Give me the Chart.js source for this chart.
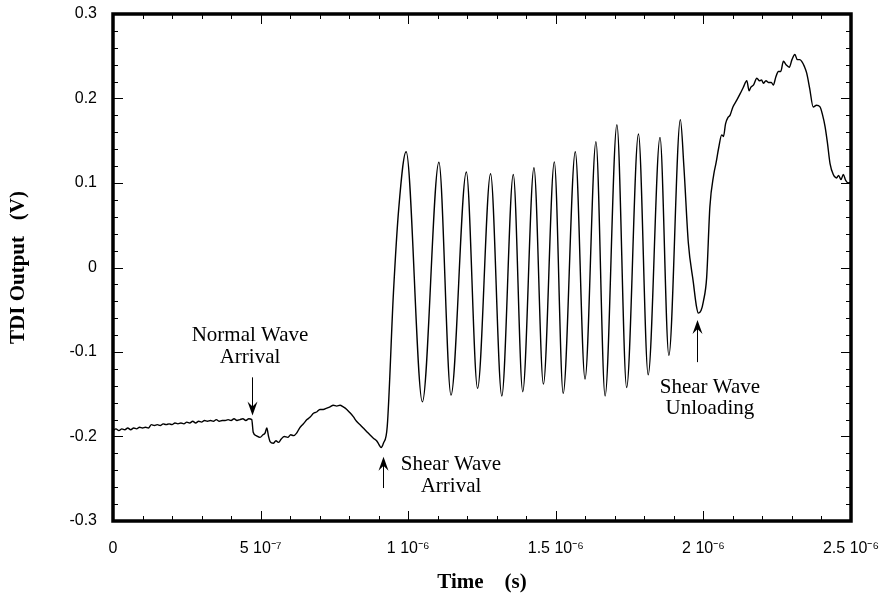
<!DOCTYPE html>
<html>
<head>
<meta charset="utf-8">
<script src="https://cdn.jsdelivr.net/npm/chart.js@4.4.1/dist/chart.umd.min.js"></script>
<style>
  html, body { margin: 0; padding: 0; background: #fff; }
  #wrap { width: 885px; height: 597px; }
</style>
</head>
<body>
<div id="wrap"><canvas id="tdiChart"></canvas></div>
<script>
// time in microseconds (axis is labelled in seconds), output in volts
const timeUs = [
  0.000, 0.010, 0.020, 0.030, 0.040, 0.050, 0.060, 0.070, 0.080, 0.090,
  0.100, 0.110, 0.120, 0.130, 0.140, 0.150, 0.160, 0.170, 0.180, 0.190,
  0.200, 0.210, 0.220, 0.230, 0.240, 0.250, 0.260, 0.270, 0.280, 0.290,
  0.300, 0.310, 0.320, 0.330, 0.340, 0.350, 0.360, 0.370, 0.380, 0.390,
  0.400, 0.410, 0.420, 0.430, 0.440, 0.450, 0.460, 0.470,
  0.475, 0.485, 0.498, 0.508, 0.515, 0.521, 0.527, 0.532, 0.543, 0.552,
  0.560, 0.570, 0.580, 0.592, 0.602, 0.612, 0.622, 0.632, 0.645, 0.657,
  0.668, 0.679, 0.690, 0.701, 0.712, 0.724, 0.735, 0.746, 0.758, 0.769,
  0.780, 0.792, 0.803, 0.814, 0.825, 0.837, 0.848, 0.859, 0.870, 0.882,
  0.893, 0.900, 0.908, 0.916, 0.929, 0.950, 0.968, 0.993,
  1.048, 1.104, 1.145, 1.197, 1.235, 1.279, 1.317, 1.356, 1.388, 1.426,
  1.458, 1.495, 1.525, 1.566, 1.599, 1.636, 1.667, 1.707, 1.740, 1.780,
  1.813, 1.853, 1.883, 1.922,
  1.934, 1.949, 1.966, 1.976, 1.983, 1.992, 2.000, 2.011, 2.022,
  2.035, 2.043, 2.052, 2.062, 2.068, 2.075, 2.084, 2.090, 2.100, 2.113,
  2.125, 2.135, 2.147, 2.155, 2.160, 2.170, 2.181, 2.190, 2.197, 2.203,
  2.212, 2.220, 2.230, 2.237, 2.245, 2.254, 2.262, 2.271, 2.280, 2.291,
  2.300, 2.310, 2.318, 2.326, 2.333, 2.342, 2.350, 2.360, 2.372, 2.383,
  2.395, 2.404, 2.412, 2.420, 2.429, 2.440, 2.451, 2.458, 2.466, 2.474,
  2.482, 2.491, 2.500
];
const tdiVolts = [
  -0.193, -0.191, -0.193, -0.191, -0.192, -0.190, -0.192, -0.190, -0.191, -0.189,
  -0.190, -0.189, -0.190, -0.186, -0.187, -0.186, -0.187, -0.185, -0.186, -0.185,
  -0.186, -0.184, -0.185, -0.184, -0.185, -0.183, -0.184, -0.182, -0.184, -0.182,
  -0.183, -0.181, -0.182, -0.181, -0.182, -0.180, -0.182, -0.181, -0.181, -0.180,
  -0.181, -0.179, -0.181, -0.180, -0.179, -0.181, -0.179, -0.180,
  -0.195, -0.199, -0.201, -0.198, -0.196, -0.190, -0.200, -0.206, -0.208, -0.205,
  -0.207, -0.203, -0.200, -0.201, -0.198, -0.199, -0.196, -0.190, -0.185, -0.180,
  -0.177, -0.1725, -0.171, -0.168, -0.168, -0.1665, -0.165, -0.163, -0.164, -0.163,
  -0.165, -0.168, -0.172, -0.1765, -0.182, -0.186, -0.190, -0.194, -0.198, -0.202,
  -0.205, -0.209, -0.213, -0.208, -0.188, -0.030, 0.070, 0.137,
  -0.159, 0.1245, -0.151, 0.113, -0.143, 0.111, -0.152, 0.110, -0.147, 0.118,
  -0.138, 0.125, -0.149, 0.137, -0.132, 0.149, -0.152, 0.169, -0.142, 0.158,
  -0.127, 0.154, -0.104, 0.175,
  0.119, 0.029, -0.018, -0.045, -0.054, -0.051, -0.040, -0.012, 0.072,
  0.110, 0.124, 0.142, 0.157, 0.155, 0.170, 0.178, 0.180, 0.190, 0.198,
  0.206, 0.213, 0.221, 0.209, 0.213, 0.216, 0.224, 0.221, 0.222, 0.218,
  0.221, 0.219, 0.219, 0.216, 0.225, 0.232, 0.232, 0.244, 0.240, 0.237,
  0.246, 0.252, 0.246, 0.246, 0.244, 0.238, 0.230, 0.212, 0.190, 0.192,
  0.190, 0.180, 0.167, 0.148, 0.123, 0.110, 0.106, 0.109, 0.104, 0.110,
  0.103, 0.100, 0.101
];
const xTickLabels = ['0', '5 10⁻⁷', '1 10⁻⁶', '1.5 10⁻⁶', '2 10⁻⁶', '2.5 10⁻⁶'];
const yTickLabels = ['-0.3', '-0.2', '-0.1', '0', '0.1', '0.2', '0.3'];

// callouts: arrow from tail to tip, text lines centred at (tx, ty...)
const notes = [
  { lines: ['Normal Wave', 'Arrival'], ax: 0.470, tail: -0.130, tip: -0.175, tx: 0.464, ty: [-0.087, -0.113] },
  { lines: ['Shear Wave', 'Arrival'], ax: 0.915, tail: -0.261, tip: -0.224, tx: 1.145, ty: [-0.240, -0.266] },
  { lines: ['Shear Wave', 'Unloading'], ax: 1.978, tail: -0.112, tip: -0.062, tx: 2.022, ty: [-0.1485, -0.1735] }
];

const frameTicks = {
  id: 'frameTicks',
  afterDatasetsDraw(chart) {
    const { ctx, chartArea: a, scales: { x, y } } = chart;
    ctx.save();
    ctx.strokeStyle = '#000';
    ctx.lineWidth = 1;
    ctx.beginPath();
    for (let i = 0; i <= 25; i++) {
      const px = Math.round(x.getPixelForValue(i * 0.1)) + 0.5;
      const len = i % 5 === 0 ? 10 : 5;
      ctx.moveTo(px, a.bottom); ctx.lineTo(px, a.bottom - len);
      ctx.moveTo(px, a.top); ctx.lineTo(px, a.top + len);
    }
    for (let i = 0; i <= 30; i++) {
      const py = Math.round(y.getPixelForValue(-0.3 + i * 0.02)) + 0.5;
      const len = i % 5 === 0 ? 10 : 5;
      ctx.moveTo(a.left, py); ctx.lineTo(a.left + len, py);
      ctx.moveTo(a.right, py); ctx.lineTo(a.right - len, py);
    }
    ctx.stroke();
    ctx.lineWidth = 3.5;
    ctx.strokeRect(a.left, a.top, a.right - a.left, a.bottom - a.top);
    ctx.restore();
  }
};

const callouts = {
  id: 'callouts',
  afterDraw(chart) {
    const { ctx, scales: { x, y } } = chart;
    ctx.save();
    ctx.fillStyle = '#000';
    ctx.strokeStyle = '#000';
    ctx.font = '21px "Liberation Serif", "Times New Roman", serif';
    ctx.textAlign = 'center';
    ctx.textBaseline = 'alphabetic';
    notes.forEach(n => {
      n.lines.forEach((t, i) => ctx.fillText(t, x.getPixelForValue(n.tx), y.getPixelForValue(n.ty[i])));
      const ax = Math.round(x.getPixelForValue(n.ax)) + 0.5;
      const y0 = y.getPixelForValue(n.tail);
      const y1 = y.getPixelForValue(n.tip);
      const dir = y1 > y0 ? 1 : -1;
      ctx.lineWidth = 1;
      ctx.beginPath();
      ctx.moveTo(ax, y0);
      ctx.lineTo(ax, y1 - dir * 6);
      ctx.stroke();
      ctx.beginPath();
      ctx.moveTo(ax, y1);
      ctx.lineTo(ax - 5, y1 - dir * 14);
      ctx.lineTo(ax, y1 - dir * 9);
      ctx.lineTo(ax + 5, y1 - dir * 14);
      ctx.closePath();
      ctx.fill();
    });
    ctx.restore();
  }
};

const tickFont = { family: '"Liberation Sans", Arial, sans-serif', size: 16 };
const titleFont = { family: '"Liberation Serif", "Times New Roman", serif', size: 21, weight: 'bold' };

new Chart(document.getElementById('tdiChart'), {
  type: 'line',
  data: {
    datasets: [{
      data: timeUs.map((t, i) => ({ x: t, y: tdiVolts[i] })),
      borderColor: '#000',
      borderWidth: 1.4,
      pointRadius: 0,
      fill: false,
      cubicInterpolationMode: 'monotone'
    }]
  },
  options: {
    responsive: true,
    maintainAspectRatio: false,
    animation: false,
    layout: { padding: { top: 14, right: 34, left: 0, bottom: 0 } },
    plugins: { legend: { display: false }, tooltip: { enabled: false } },
    scales: {
      x: {
        type: 'linear',
        min: 0, max: 2.5,
        grid: { display: false, drawTicks: false },
        border: { display: false },
        ticks: {
          stepSize: 0.5,
          padding: 18,
          maxRotation: 0,
          color: '#000',
          font: tickFont,
          callback: v => xTickLabels[Math.round(v / 0.5)]
        },
        title: { display: true, text: 'Time    (s)', color: '#000', font: titleFont, padding: { top: 0, bottom: 2 } },
        afterFit: s => { s.height = 76; s.paddingLeft = 0; s.paddingRight = 0; }
      },
      y: {
        min: -0.3, max: 0.3,
        grid: { display: false, drawTicks: false },
        border: { display: false },
        ticks: {
          stepSize: 0.1,
          padding: 16,
          color: '#000',
          font: tickFont,
          callback: v => yTickLabels[Math.round((v + 0.3) / 0.1)]
        },
        title: { display: true, text: 'TDI Output   (V)', color: '#000', font: titleFont, padding: { top: 6, bottom: 0 } },
        afterFit: s => { s.width = 113; s.paddingTop = 0; s.paddingBottom = 0; }
      }
    }
  },
  plugins: [frameTicks, callouts]
});
</script>
</body>
</html>
